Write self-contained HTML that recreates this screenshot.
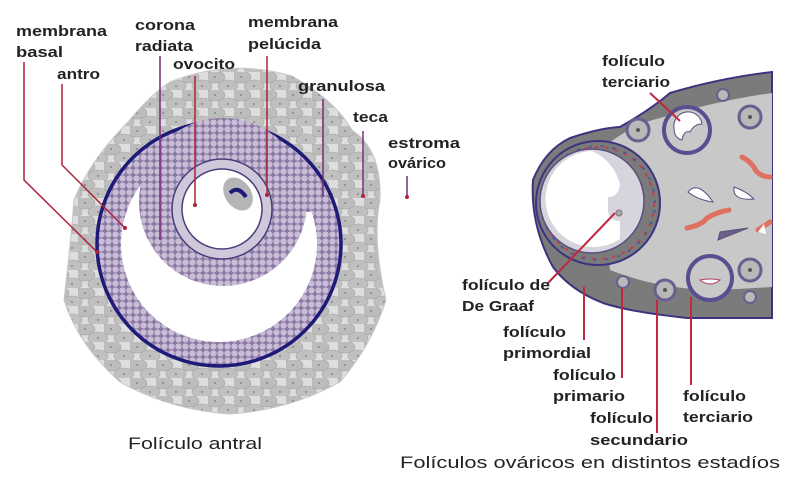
<!DOCTYPE html>
<html><head><meta charset="utf-8"><style>
html,body{margin:0;padding:0;background:#fff;}
svg{display:block;}
text{font-family:"Liberation Sans",Arial,sans-serif;fill:#222;}
.l{font-size:15px;font-weight:bold;}
</style></head><body>
<svg width="800" height="485" viewBox="0 0 800 485" xmlns="http://www.w3.org/2000/svg">
<defs>
<pattern id="gc" width="26" height="18" patternUnits="userSpaceOnUse">
<rect width="26" height="18" fill="#dedede"/>
<ellipse cx="7" cy="5" rx="10" ry="6" fill="#bcbcbc" stroke="#a5a5a5" stroke-width="0.6"/>
<ellipse cx="20" cy="14" rx="10" ry="6" fill="#c0c0c0" stroke="#a5a5a5" stroke-width="0.6"/>
<ellipse cx="-6" cy="14" rx="10" ry="6" fill="#c0c0c0" stroke="#a5a5a5" stroke-width="0.6"/>
<circle cx="7" cy="5" r="1" fill="#888"/><circle cx="20" cy="14" r="1" fill="#888"/>
</pattern>
<pattern id="pc" width="7" height="7" patternUnits="userSpaceOnUse">
<rect width="7" height="7" fill="#8a7aa3"/>
<circle cx="3.5" cy="3.5" r="3.1" fill="#c9bcd6"/>
</pattern>
<clipPath id="topcap"><polygon points="100,100 340,100 340,212 300,212 120,168 100,168"/></clipPath>
</defs>

<path d="M170,82 Q230,58 292,76 Q335,100 352,130 Q382,150 380,200 Q372,240 386,300 Q372,345 340,382 Q290,410 230,414 Q170,410 120,382 Q78,345 64,300 Q70,250 74,200 Q90,160 128,122 Q150,95 170,82Z" fill="url(#gc)" stroke="#c8c8c8"/>
<circle cx="219" cy="244" r="122" fill="url(#pc)"/>
<circle cx="219" cy="244" r="122" fill="none" stroke="#1d1a78" stroke-width="3.5"/>
<circle cx="219" cy="244" r="98" fill="#fff"/>
<circle cx="219" cy="244" r="98" fill="url(#pc)" clip-path="url(#topcap)"/>
<circle cx="223" cy="202" r="84" fill="url(#pc)"/>
<circle cx="222" cy="209" r="50" fill="#cfc8da" stroke="#4a3e78" stroke-width="1.5"/>
<circle cx="222" cy="209" r="40" fill="#fff" stroke="#4a3e78" stroke-width="1.5"/>
<ellipse cx="238" cy="194" rx="13" ry="18" transform="rotate(-35 238 194)" fill="#b5b5b8"/>
<path d="M230,193 q8,-8 16,4" stroke="#1d1a78" stroke-width="4" fill="none"/>

<g fill="none" stroke-width="1.5">
<polyline points="24,62 24,180 97,252" stroke="#b0223b"/>
<polyline points="62,84 62,165 125,228" stroke="#b0223b"/>
<line x1="160" y1="56" x2="160" y2="240" stroke="#7a2a7a"/>
<line x1="195" y1="76" x2="195" y2="205" stroke="#b0223b"/>
<line x1="267" y1="56" x2="267" y2="195" stroke="#b0223b"/>
<line x1="323" y1="99" x2="323" y2="197" stroke="#7a2a7a"/>
<line x1="363" y1="131" x2="363" y2="196" stroke="#7a2a7a"/>
<line x1="407" y1="176" x2="407" y2="197" stroke="#7a2a7a"/>
</g>
<g fill="#b0223b"><circle cx="97" cy="252" r="2"/><circle cx="125" cy="228" r="2"/><circle cx="195" cy="205" r="2"/><circle cx="267" cy="195" r="2"/><circle cx="363" cy="196" r="2"/><circle cx="407" cy="197" r="2"/></g>

<text class="l" x="16" y="36" textLength="91" lengthAdjust="spacingAndGlyphs">membrana</text>
<text class="l" x="16" y="57" textLength="47" lengthAdjust="spacingAndGlyphs">basal</text>
<text class="l" x="57" y="79" textLength="43" lengthAdjust="spacingAndGlyphs">antro</text>
<text class="l" x="135" y="30" textLength="60" lengthAdjust="spacingAndGlyphs">corona</text>
<text class="l" x="135" y="51" textLength="58" lengthAdjust="spacingAndGlyphs">radiata</text>
<text class="l" x="173" y="69" textLength="62" lengthAdjust="spacingAndGlyphs">ovocito</text>
<text class="l" x="248" y="27" textLength="90" lengthAdjust="spacingAndGlyphs">membrana</text>
<text class="l" x="248" y="49" textLength="73" lengthAdjust="spacingAndGlyphs">pelúcida</text>
<text class="l" x="298" y="91" textLength="87" lengthAdjust="spacingAndGlyphs">granulosa</text>
<text class="l" x="353" y="122" textLength="35" lengthAdjust="spacingAndGlyphs">teca</text>
<text class="l" x="388" y="148" textLength="72" lengthAdjust="spacingAndGlyphs">estroma</text>
<text class="l" x="388" y="168" textLength="58" lengthAdjust="spacingAndGlyphs">ovárico</text>
<text x="128" y="449" font-size="17" textLength="134" lengthAdjust="spacingAndGlyphs">Folículo antral</text>

<path d="M533,180 Q545,150 570,138 Q600,128 620,127 Q650,110 670,93 Q720,78 772,72 L772,318 L687,318 Q630,312 603,303 Q570,290 553,267 Q530,225 533,180Z" fill="#7b7b7b" stroke="#3b3480" stroke-width="2"/>
<path d="M600,150 Q630,125 660,118 Q720,100 772,93 L772,287 L720,290 Q660,290 610,270 Z" fill="#c8c8c8"/>
<circle cx="598" cy="203" r="62" fill="#7b7b7b" stroke="#3b3480" stroke-width="2"/>
<g fill="none" stroke="#c04050" stroke-width="2" stroke-dasharray="4 6"><circle cx="598" cy="203" r="56"/></g>
<g fill="none" stroke="#4a5aa0" stroke-width="2" stroke-dasharray="3 9" stroke-dashoffset="5"><circle cx="598" cy="203" r="57"/></g>
<circle cx="592" cy="201" r="52" fill="#d8d4de" stroke="#5a4e80" stroke-width="1.5"/>
<path d="M592,151 a48,48 0 1 0 28,88 l0,-18 q-12,0 -12,-12 l0,-12 q10,0 12,-12 a48,48 0 0 0 -28,-34Z" fill="#fff"/>
<circle cx="619" cy="213" r="3" fill="#aaa" stroke="#777"/>
<circle cx="687" cy="130" r="23" fill="#c8c8c8" stroke="#5a4e90" stroke-width="4"/>
<path d="M674,128 a14,14 0 0 1 28,-4 q-8,0 -12,8 q-6,-2 -8,8 q-8,-2 -8,-12Z" fill="#fff" stroke="#5a4e80"/>
<circle cx="710" cy="278" r="22" fill="#c8c8c8" stroke="#5a4e90" stroke-width="4"/>
<path d="M700,280 q10,8 20,0 q-10,-2 -20,0Z" fill="#fff" stroke="#b04060"/>
<g fill="#b8b8b8" stroke="#6a5e90" stroke-width="3">
<circle cx="638" cy="130" r="11"/><circle cx="750" cy="117" r="11"/><circle cx="750" cy="270" r="11"/><circle cx="665" cy="290" r="10"/>
</g>
<g fill="#b8b8b8" stroke="#6a5e90" stroke-width="2">
<circle cx="723" cy="95" r="6"/><circle cx="750" cy="297" r="6"/><circle cx="623" cy="282" r="6"/>
</g>
<g fill="#555"><circle cx="638" cy="130" r="2"/><circle cx="750" cy="117" r="2"/><circle cx="750" cy="270" r="2"/><circle cx="665" cy="290" r="2"/></g>
<g fill="none" stroke="#e07060" stroke-width="5" stroke-linecap="round">
<path d="M742,157 q10,5 14,14 q6,6 14,6"/>
<path d="M687,228 q15,-3 20,-10 q10,-6 22,-8"/>
<path d="M758,230 l12,-8"/>
</g>
<path d="M688,192 q10,-12 25,10 q-15,-2 -25,-10Z" fill="#fff" stroke="#5a4e80"/>
<path d="M734,187 q-2,14 20,12 q-8,-8 -20,-12Z" fill="#fff" stroke="#5a4e80"/>
<path d="M718,240 l30,-12 l-28,4Z" fill="#6a6088" stroke="#5a4e80"/>
<path d="M764,224 l-6,8 l8,2Z" fill="#fff"/>

<g fill="none" stroke="#c0283f" stroke-width="2">
<line x1="650" y1="93" x2="680" y2="121"/>
<line x1="548" y1="283" x2="615" y2="213"/>
<line x1="584" y1="340" x2="584" y2="287"/>
<line x1="622" y1="378" x2="622" y2="288"/>
<line x1="657" y1="433" x2="657" y2="300"/>
<line x1="691" y1="385" x2="691" y2="297"/>
</g>
<text class="l" x="602" y="66" textLength="63" lengthAdjust="spacingAndGlyphs">folículo</text>
<text class="l" x="602" y="87" textLength="68" lengthAdjust="spacingAndGlyphs">terciario</text>
<text class="l" x="462" y="290" textLength="88" lengthAdjust="spacingAndGlyphs">folículo de</text>
<text class="l" x="462" y="311" textLength="72" lengthAdjust="spacingAndGlyphs">De Graaf</text>
<text class="l" x="503" y="337" textLength="63" lengthAdjust="spacingAndGlyphs">folículo</text>
<text class="l" x="503" y="358" textLength="88" lengthAdjust="spacingAndGlyphs">primordial</text>
<text class="l" x="553" y="380" textLength="63" lengthAdjust="spacingAndGlyphs">folículo</text>
<text class="l" x="553" y="401" textLength="72" lengthAdjust="spacingAndGlyphs">primario</text>
<text class="l" x="590" y="423" textLength="63" lengthAdjust="spacingAndGlyphs">folículo</text>
<text class="l" x="590" y="445" textLength="98" lengthAdjust="spacingAndGlyphs">secundario</text>
<text class="l" x="683" y="401" textLength="63" lengthAdjust="spacingAndGlyphs">folículo</text>
<text class="l" x="683" y="422" textLength="70" lengthAdjust="spacingAndGlyphs">terciario</text>
<text x="400" y="468" font-size="17" textLength="380" lengthAdjust="spacingAndGlyphs">Folículos ováricos en distintos estadíos</text>
</svg>
</body></html>
